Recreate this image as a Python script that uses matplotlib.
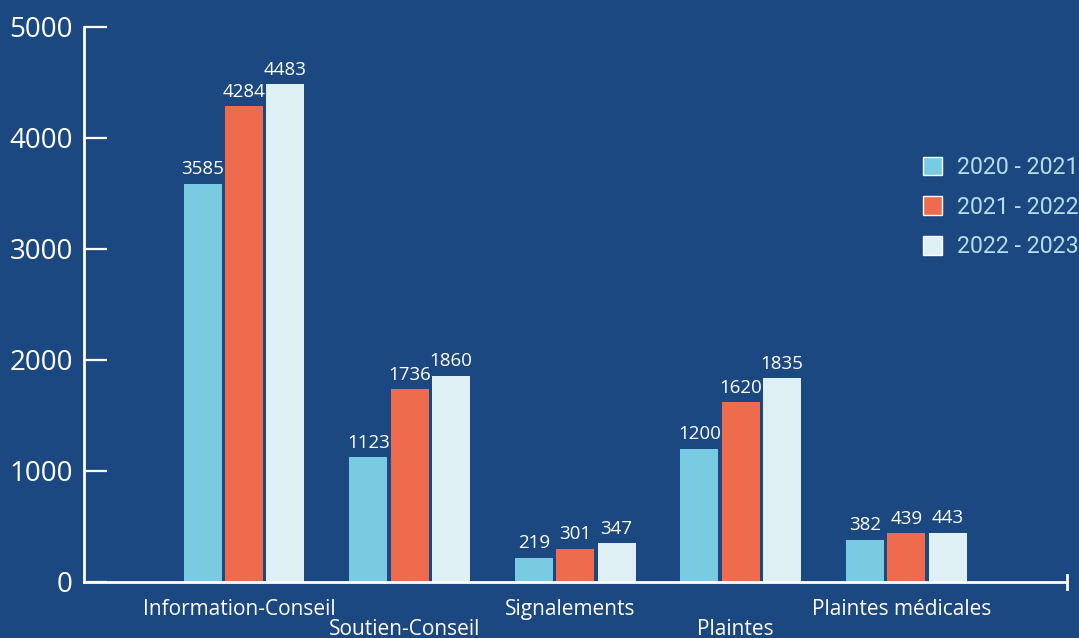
import matplotlib.pyplot as plt
import numpy as np

categories = ['Information-Conseil', 'Soutien-Conseil', 'Signalements', 'Plaintes', 'Plaintes médicales']
years = ['2020 - 2021', '2021 - 2022', '2022 - 2023']
v2021 = [3585, 1123, 219, 1200, 382]
v2022 = [4284, 1736, 301, 1620, 439]
v2023 = [4483, 1860, 347, 1835, 443]

bg = '#1c4882'
colors = ['#78cbe0', '#ef6b4d', '#dff0f5']

plt.rcParams['font.family'] = ['Open Sans', 'DejaVu Sans']

fig = plt.figure(figsize=(10.79, 6.38), dpi=100, facecolor=bg)
ax = fig.add_axes([0.0778, 0.0878, 0.911, 0.87])
ax.set_facecolor(bg)

x = np.arange(len(categories))
w = 0.23
step = 0.25
for i, (vals, col, lab) in enumerate(zip([v2021, v2022, v2023], colors, years)):
    bars = ax.bar(x + (i - 1) * step, vals, w, color=col, label=lab, zorder=2)
    for b, v in zip(bars, vals):
        ax.annotate(str(v), (b.get_x() + b.get_width() / 2, v), xytext=(0, 4),
                    textcoords='offset points', ha='center', va='bottom',
                    color='white', fontsize=13.5)

ax.set_xlim(-0.967, 4.97)
ax.set_ylim(0, 5000)
ax.set_yticks([0, 1000, 2000, 3000, 4000, 5000])
ax.tick_params(axis='y', direction='in', length=16.5, width=1.6, colors='white',
               labelsize=20, pad=8)
ax.set_xticks(x)
ax.set_xticklabels([])
ax.tick_params(axis='x', length=0)
for i, c in enumerate(categories):
    dy = -0.05 if i % 2 == 0 else -0.086
    ax.text(i - 0.03, dy, c, transform=ax.get_xaxis_transform(), ha='center', va='center',
            color='white', fontsize=15)

for s in ['top', 'right']:
    ax.spines[s].set_visible(False)
for s in ['left', 'bottom']:
    ax.spines[s].set_color('white')
    ax.spines[s].set_linewidth(2)
ax.plot([1, 1], [-0.012, 0.012], transform=ax.transAxes, color='white', lw=2,
        clip_on=False)

leg = ax.legend(loc='upper right', bbox_to_anchor=(1.033, 0.805), frameon=False,
                prop={'family': 'Roboto', 'size': 16.7}, handlelength=0.8,
                handleheight=0.85, labelspacing=0.72, handletextpad=0.65)
for t in leg.get_texts():
    t.set_color('#b7ddea')
for h in leg.legend_handles:
    h.set_edgecolor('white')
    h.set_linewidth(1)

fig.savefig('out.png', dpi=100, facecolor=bg)
